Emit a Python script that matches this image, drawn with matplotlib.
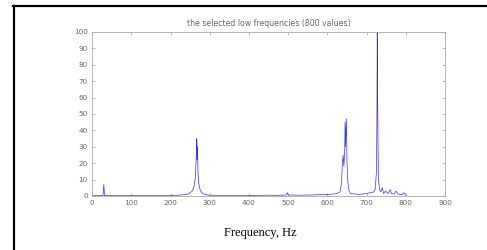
import matplotlib
matplotlib.use("Agg")
import matplotlib.pyplot as plt
from matplotlib.lines import Line2D

# spectrum (Hz, amplitude)
freq = [0, 10, 20, 28, 30, 32, 40, 60, 80, 100, 120, 150, 180, 200, 220, 235,
        245, 250, 255, 258, 261, 263, 265, 266, 267, 268, 269, 270, 272, 274,
        276, 280, 285, 290, 300, 320, 350, 380, 400, 420, 450, 470, 495, 498,
        500, 530, 560, 580, 600, 615, 625, 632, 636, 638, 640, 642, 644, 645,
        646, 648, 649, 650, 652, 655, 660, 670, 680, 690, 700, 710, 718, 722,
        725, 726, 727, 728, 729, 730, 733, 736, 740, 743, 748, 755, 760, 763,
        770, 775, 780, 790, 795, 800]
amp = [0.4, 0.2, 0.3, 0.2, 7, 0.2, 0.3, 0.2, 0.3, 0.2, 0.2, 0.3, 0.3, 0.4,
       0.5, 0.8, 1.2, 2, 3, 4.5, 7, 11, 20, 28, 35, 22, 30, 15, 8, 5,
       3.5, 2, 1.2, 0.8, 0.5, 0.4, 0.3, 0.3, 0.4, 0.4, 0.5, 0.4, 0.6, 2,
       0.6, 0.5, 0.6, 0.8, 1, 1.2, 1.6, 2.5, 8, 20, 25, 18, 28, 45,
       30, 47, 35, 20, 9, 3, 1.5, 1.2, 1, 1.2, 1.6, 2, 2.5, 4.5,
       15, 40, 100, 60, 30, 10, 4, 2.5, 5, 1.5, 3, 1.5, 4, 1.5,
       1.2, 3, 1.2, 0.8, 2, 0.4]

xticks = list(range(0, 901, 100))
yticks = list(range(0, 101, 10))

fig = plt.figure(figsize=(4.87, 2.5), dpi=100)
ax = fig.add_axes([0.189, 0.216, 0.725, 0.656])
ax.plot(freq, amp, color="#3030ff", lw=0.5)
ax.set_xlim(0, 900)
ax.set_ylim(0, 100)
ax.set_xticks(xticks)
ax.set_yticks(yticks)
ax.tick_params(direction="in", length=2.5, width=0.5, colors="#999999",
               labelsize=5.2, labelcolor="#666666", top=True, right=True, pad=3)
for s in ax.spines.values():
    s.set_color("#aaaaaa")
    s.set_linewidth(0.6)
ax.set_title("the selected low frequencies (800 values)", fontsize=5.6,
             color="#666666", pad=4)

fig.text(0.534, 0.068, "Frequency, Hz", ha="center", va="center",
         family="Liberation Serif", fontsize=9)

# black frame edges of the original figure
fig.add_artist(Line2D([0.028, 0.028], [0, 0.975], color="black", lw=1.6,
                      transform=fig.transFigure))
fig.add_artist(Line2D([0.027, 1], [0.975, 0.975], color="black", lw=1.6,
                      transform=fig.transFigure))

fig.savefig("out.png", dpi=100)
